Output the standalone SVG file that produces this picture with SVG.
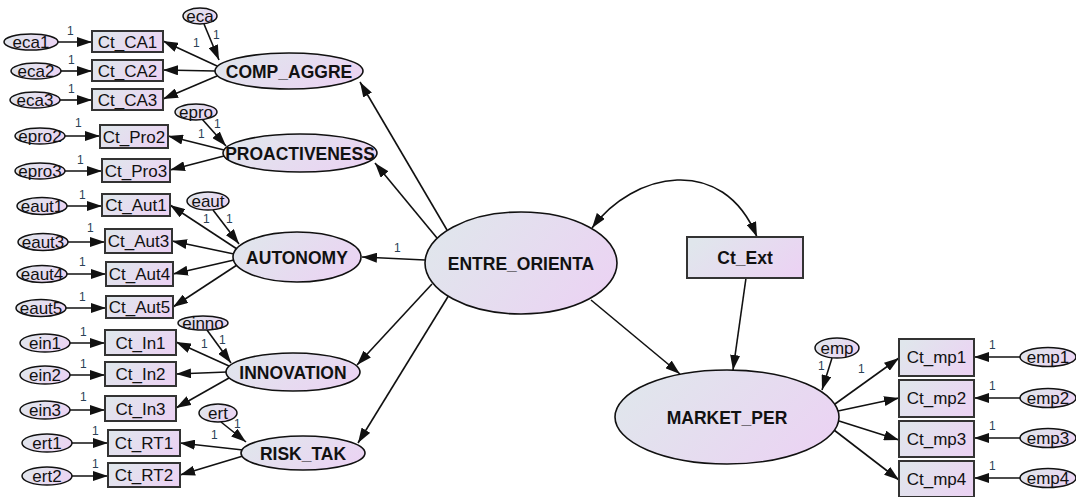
<svg xmlns="http://www.w3.org/2000/svg" width="1076" height="497" viewBox="0 0 1076 497">
  <defs>
    <linearGradient id="fillGrad" x1="0" y1="0.3" x2="1" y2="0.7">
      <stop offset="0" stop-color="#e0e6ec"/>
      <stop offset="1" stop-color="#ebd3f3"/>
    </linearGradient>
    <marker id="ah" viewBox="0 0 15 10" refX="15" refY="5" markerWidth="15" markerHeight="10" markerUnits="userSpaceOnUse" orient="auto-start-reverse">
      <path d="M0,0 L15,5 L0,10 z" fill="#111"/>
    </marker>
    <style>
      .obs { fill: url(#fillGrad); stroke: #333; stroke-width: 2; }
      .lat { fill: url(#fillGrad); stroke: #111; stroke-width: 1.6; }
      .err { fill: url(#fillGrad); stroke: #111; stroke-width: 1.5; }
      .ln { fill: none; stroke: #111; stroke-width: 1.6; marker-end: url(#ah); }
      .dbl { fill: none; stroke: #111; stroke-width: 1.6; marker-start: url(#ah); marker-end: url(#ah); }
      text { font-family: "Liberation Sans", Arial, sans-serif; fill: #111; text-anchor: middle; }
      .t { font-size: 17px; }
      .e { font-size: 17px; }
      .b { font-size: 17.5px; font-weight: bold; }
      .w { font-size: 12px; fill: #2a3f55; text-anchor: start; }
    </style>
  </defs>

  <rect width="1076" height="497" fill="#ffffff"/>

  <!-- connectors and fixed-weight labels -->
  <g id="connectors">
    <!-- error terms into observed indicators (left block) -->
    <line class="ln" x1="58" y1="42" x2="92" y2="42"/>
    <line class="ln" x1="61" y1="71" x2="92" y2="71"/>
    <line class="ln" x1="60" y1="100" x2="92" y2="100"/>
    <line class="ln" x1="65" y1="136" x2="100" y2="136"/>
    <line class="ln" x1="65" y1="171" x2="102" y2="171"/>
    <line class="ln" x1="67" y1="206" x2="102" y2="206"/>
    <line class="ln" x1="68" y1="242" x2="105" y2="242"/>
    <line class="ln" x1="67" y1="274" x2="106" y2="274"/>
    <line class="ln" x1="66" y1="308" x2="106" y2="308"/>
    <line class="ln" x1="70" y1="343" x2="105" y2="343"/>
    <line class="ln" x1="70" y1="375" x2="105" y2="375"/>
    <line class="ln" x1="70" y1="410" x2="105" y2="410"/>
    <line class="ln" x1="72" y1="443" x2="108" y2="443"/>
    <line class="ln" x1="72" y1="476" x2="108" y2="476"/>

    <!-- disturbance terms into first-order factors -->
    <line class="ln" x1="204" y1="24" x2="219" y2="60"/>
    <line class="ln" x1="202" y1="119" x2="226" y2="146"/>
    <line class="ln" x1="213" y1="210" x2="239" y2="244"/>
    <line class="ln" x1="207" y1="330" x2="231" y2="363"/>
    <line class="ln" x1="221" y1="422" x2="246" y2="442"/>

    <!-- factor loadings: COMP_AGGRE -->
    <line class="ln" x1="217" y1="66" x2="163" y2="41"/>
    <line class="ln" x1="215" y1="71" x2="163" y2="70"/>
    <line class="ln" x1="217" y1="76" x2="163" y2="99"/>
    <!-- PROACTIVENESS -->
    <line class="ln" x1="224" y1="150" x2="168" y2="136"/>
    <line class="ln" x1="224" y1="156" x2="170" y2="170"/>
    <!-- AUTONOMY -->
    <line class="ln" x1="237" y1="249" x2="170" y2="205"/>
    <line class="ln" x1="234" y1="254" x2="172" y2="241"/>
    <line class="ln" x1="234" y1="260" x2="173" y2="274"/>
    <line class="ln" x1="237" y1="265" x2="173" y2="307"/>
    <!-- INNOVATION -->
    <line class="ln" x1="229" y1="366" x2="176" y2="342"/>
    <line class="ln" x1="227" y1="372" x2="176" y2="374"/>
    <line class="ln" x1="229" y1="378" x2="176" y2="408"/>
    <!-- RISK_TAK -->
    <line class="ln" x1="243" y1="450" x2="180" y2="443"/>
    <line class="ln" x1="243" y1="456" x2="180" y2="475"/>

    <!-- second-order paths from ENTRE_ORIENTA -->
    <line class="ln" x1="447" y1="230" x2="360" y2="82"/>
    <line class="ln" x1="437" y1="238" x2="375" y2="163"/>
    <line class="ln" x1="425" y1="260" x2="362" y2="257"/>
    <line class="ln" x1="432" y1="284" x2="357" y2="365"/>
    <line class="ln" x1="449" y1="295" x2="358" y2="443"/>

    <!-- structural paths -->
    <line class="ln" x1="591" y1="300" x2="680" y2="374"/>
    <line class="ln" x1="746" y1="278" x2="733" y2="370"/>
    <path class="dbl" d="M592,228 C633,172 723,153 757,237"/>

    <!-- MARKET_PER measurement part -->
    <line class="ln" x1="832" y1="358" x2="822" y2="390"/>
    <line class="ln" x1="835" y1="404" x2="899" y2="358"/>
    <line class="ln" x1="838" y1="411" x2="899" y2="398"/>
    <line class="ln" x1="839" y1="421" x2="899" y2="440"/>
    <line class="ln" x1="834" y1="430" x2="899" y2="480"/>
    <line class="ln" x1="1020" y1="357" x2="974" y2="357"/>
    <line class="ln" x1="1020" y1="398" x2="974" y2="398"/>
    <line class="ln" x1="1020" y1="438" x2="974" y2="438"/>
    <line class="ln" x1="1020" y1="478" x2="974" y2="478"/>

    <!-- fixed regression weights -->
    <g id="weights">
      <text class="w" x="67" y="35">1</text>
      <text class="w" x="68" y="64">1</text>
      <text class="w" x="68" y="93">1</text>
      <text class="w" x="75" y="127">1</text>
      <text class="w" x="77" y="164">1</text>
      <text class="w" x="79" y="199">1</text>
      <text class="w" x="87" y="232">1</text>
      <text class="w" x="79" y="266">1</text>
      <text class="w" x="79" y="301">1</text>
      <text class="w" x="80" y="336">1</text>
      <text class="w" x="80" y="368">1</text>
      <text class="w" x="80" y="401">1</text>
      <text class="w" x="92" y="435">1</text>
      <text class="w" x="92" y="468">1</text>

      <text class="w" x="193" y="47">1</text>
      <text class="w" x="213" y="39">1</text>
      <text class="w" x="198" y="138">1</text>
      <text class="w" x="214" y="128">1</text>
      <text class="w" x="203" y="223">1</text>
      <text class="w" x="226" y="223">1</text>
      <text class="w" x="201" y="348">1</text>
      <text class="w" x="219" y="344">1</text>
      <text class="w" x="211" y="439">1</text>
      <text class="w" x="234" y="428">1</text>

      <text class="w" x="394" y="252">1</text>

      <text class="w" x="818" y="370">1</text>
      <text class="w" x="858" y="373">1</text>
      <text class="w" x="989" y="349">1</text>
      <text class="w" x="989" y="390">1</text>
      <text class="w" x="989" y="430">1</text>
      <text class="w" x="989" y="470">1</text>
    </g>
  </g>

  <!-- COMP_AGGRE block -->
  <g id="eca1"><ellipse class="err" cx="31" cy="42" rx="27" ry="8"/><text class="e" x="31" y="48">eca1</text></g>
  <g id="eca2"><ellipse class="err" cx="36" cy="71" rx="25" ry="8"/><text class="e" x="36" y="77">eca2</text></g>
  <g id="eca3"><ellipse class="err" cx="35" cy="100" rx="25" ry="8"/><text class="e" x="35" y="106">eca3</text></g>
  <g id="Ct_CA1"><rect class="obs" x="92" y="31" width="71" height="21"/><text class="t" x="127.5" y="48">Ct_CA1</text></g>
  <g id="Ct_CA2"><rect class="obs" x="92" y="60" width="71" height="21"/><text class="t" x="127.5" y="77">Ct_CA2</text></g>
  <g id="Ct_CA3"><rect class="obs" x="92" y="89" width="71" height="21"/><text class="t" x="127.5" y="106">Ct_CA3</text></g>
  <g id="eca"><ellipse class="err" cx="200" cy="16" rx="17" ry="8"/><text class="e" x="200" y="22">eca</text></g>
  <g id="COMP_AGGRE"><ellipse class="lat" cx="289" cy="71" rx="74" ry="18"/><text class="b" x="289" y="77.5">COMP_AGGRE</text></g>

  <!-- PROACTIVENESS block -->
  <g id="epro2"><ellipse class="err" cx="40" cy="136" rx="25" ry="8"/><text class="e" x="40" y="142">epro2</text></g>
  <g id="epro3"><ellipse class="err" cx="40" cy="171" rx="25" ry="8"/><text class="e" x="40" y="177">epro3</text></g>
  <g id="Ct_Pro2"><rect class="obs" x="100" y="125" width="68" height="23"/><text class="t" x="134" y="142.5">Ct_Pro2</text></g>
  <g id="Ct_Pro3"><rect class="obs" x="102" y="159" width="68" height="23"/><text class="t" x="136" y="176.5">Ct_Pro3</text></g>
  <g id="epro"><ellipse class="err" cx="196" cy="112" rx="21" ry="8"/><text class="e" x="196" y="118">epro</text></g>
  <g id="PROACTIVENESS"><ellipse class="lat" cx="300" cy="153" rx="77" ry="19"/><text class="b" x="300" y="159.5">PROACTIVENESS</text></g>

  <!-- AUTONOMY block -->
  <g id="eaut1"><ellipse class="err" cx="42" cy="206" rx="25" ry="8.5"/><text class="e" x="42" y="212">eaut1</text></g>
  <g id="eaut3"><ellipse class="err" cx="43" cy="242" rx="25" ry="8.5"/><text class="e" x="43" y="248">eaut3</text></g>
  <g id="eaut4"><ellipse class="err" cx="42" cy="274" rx="25" ry="8.5"/><text class="e" x="42" y="280">eaut4</text></g>
  <g id="eaut5"><ellipse class="err" cx="41" cy="308" rx="25" ry="8.5"/><text class="e" x="41" y="314">eaut5</text></g>
  <g id="Ct_Aut1"><rect class="obs" x="102" y="194" width="68" height="22"/><text class="t" x="136" y="211">Ct_Aut1</text></g>
  <g id="Ct_Aut3"><rect class="obs" x="105" y="229" width="67" height="24"/><text class="t" x="138.5" y="247">Ct_Aut3</text></g>
  <g id="Ct_Aut4"><rect class="obs" x="106" y="262" width="67" height="24"/><text class="t" x="139.5" y="280">Ct_Aut4</text></g>
  <g id="Ct_Aut5"><rect class="obs" x="106" y="296" width="67" height="22"/><text class="t" x="139.5" y="313">Ct_Aut5</text></g>
  <g id="eaut"><ellipse class="err" cx="208" cy="201" rx="21" ry="9"/><text class="e" x="208" y="207">eaut</text></g>
  <g id="AUTONOMY"><ellipse class="lat" cx="297" cy="257" rx="64" ry="25"/><text class="b" x="297" y="263.5">AUTONOMY</text></g>

  <!-- INNOVATION block -->
  <g id="ein1"><ellipse class="err" cx="45" cy="343" rx="25" ry="9"/><text class="e" x="45" y="349">ein1</text></g>
  <g id="ein2"><ellipse class="err" cx="45" cy="375" rx="25" ry="9"/><text class="e" x="45" y="381">ein2</text></g>
  <g id="ein3"><ellipse class="err" cx="45" cy="410" rx="25" ry="9"/><text class="e" x="45" y="416">ein3</text></g>
  <g id="Ct_In1"><rect class="obs" x="105" y="330" width="71" height="25"/><text class="t" x="140.5" y="349">Ct_In1</text></g>
  <g id="Ct_In2"><rect class="obs" x="105" y="362" width="71" height="24"/><text class="t" x="140.5" y="380">Ct_In2</text></g>
  <g id="Ct_In3"><rect class="obs" x="105" y="396" width="71" height="25"/><text class="t" x="140.5" y="415">Ct_In3</text></g>
  <g id="einno"><ellipse class="err" cx="203" cy="323" rx="25" ry="7"/><text class="e" x="203" y="329">einno</text></g>
  <g id="INNOVATION"><ellipse class="lat" cx="293" cy="372" rx="67" ry="19"/><text class="b" x="293" y="378.5">INNOVATION</text></g>

  <!-- RISK_TAK block -->
  <g id="ert1"><ellipse class="err" cx="47" cy="443" rx="25" ry="9"/><text class="e" x="47" y="449">ert1</text></g>
  <g id="ert2"><ellipse class="err" cx="47" cy="476" rx="25" ry="9"/><text class="e" x="47" y="482">ert2</text></g>
  <g id="Ct_RT1"><rect class="obs" x="108" y="430" width="72" height="26"/><text class="t" x="144" y="449">Ct_RT1</text></g>
  <g id="Ct_RT2"><rect class="obs" x="108" y="463" width="72" height="24"/><text class="t" x="144" y="481">Ct_RT2</text></g>
  <g id="ert"><ellipse class="err" cx="218" cy="413" rx="19" ry="9"/><text class="e" x="218" y="419">ert</text></g>
  <g id="RISK_TAK"><ellipse class="lat" cx="303" cy="453" rx="62" ry="17"/><text class="b" x="303" y="459.5">RISK_TAK</text></g>

  <!-- second-order construct, control and outcome -->
  <g id="ENTRE_ORIENTA"><ellipse class="lat" cx="521" cy="263" rx="96" ry="51"/><text class="b" x="521" y="269.5">ENTRE_ORIENTA</text></g>
  <g id="Ct_Ext"><rect class="obs" x="687" y="237" width="116" height="41"/><text class="b" x="745" y="264">Ct_Ext</text></g>
  <g id="MARKET_PER"><ellipse class="lat" cx="727" cy="417" rx="112" ry="47"/><text class="b" x="727" y="423.5">MARKET_PER</text></g>

  <!-- MARKET_PER indicators -->
  <g id="emp"><ellipse class="err" cx="837" cy="348" rx="22" ry="10"/><text class="e" x="837" y="354">emp</text></g>
  <g id="Ct_mp1"><rect class="obs" x="899" y="339" width="75" height="37"/><text class="t" x="936.5" y="363">Ct_mp1</text></g>
  <g id="Ct_mp2"><rect class="obs" x="899" y="380" width="75" height="37"/><text class="t" x="936.5" y="404">Ct_mp2</text></g>
  <g id="Ct_mp3"><rect class="obs" x="899" y="421" width="75" height="36"/><text class="t" x="936.5" y="445">Ct_mp3</text></g>
  <g id="Ct_mp4"><rect class="obs" x="899" y="461" width="75" height="36"/><text class="t" x="936.5" y="485">Ct_mp4</text></g>
  <g id="emp1"><ellipse class="err" cx="1048" cy="357" rx="28" ry="9.5"/><text class="e" x="1048" y="363">emp1</text></g>
  <g id="emp2"><ellipse class="err" cx="1048" cy="398" rx="28" ry="9.5"/><text class="e" x="1048" y="404">emp2</text></g>
  <g id="emp3"><ellipse class="err" cx="1048" cy="438" rx="28" ry="9.5"/><text class="e" x="1048" y="444">emp3</text></g>
  <g id="emp4"><ellipse class="err" cx="1048" cy="478" rx="28" ry="9.5"/><text class="e" x="1048" y="484">emp4</text></g>
</svg>
